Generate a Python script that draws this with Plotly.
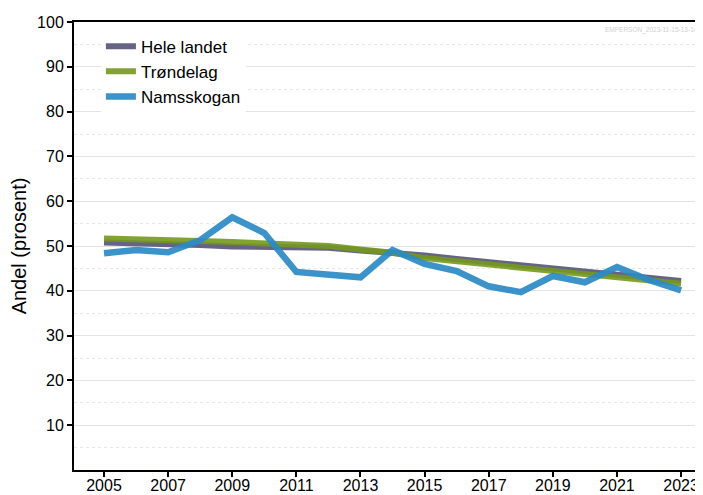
import plotly.graph_objects as go

years = list(range(2005, 2024))
hele_landet = [50.8, 50.7, 50.5, 50.2, 49.9, 49.8, 49.7, 49.6, 49.0, 48.5, 47.9, 47.1, 46.4, 45.8, 45.1, 44.5, 43.9, 43.0, 42.2]
trondelag = [51.7, 51.6, 51.3, 51.1, 50.9, 50.6, 50.3, 50.0, 49.2, 48.5, 47.3, 46.6, 45.9, 45.2, 44.6, 43.8, 43.3, 42.5, 41.6]
namsskogan = [48.4, 49.1, 48.6, 51.3, 56.4, 52.9, 44.2, 43.7, 43.0, 49.1, 46.0, 44.4, 41.0, 39.7, 43.3, 41.9, 45.3, 42.4, 40.1]
series_names = ["Hele landet", "Trøndelag", "Namsskogan"]
x_ticks = list(range(2005, 2024, 2))
y_ticks = list(range(10, 101, 10))

colors = ["rgba(85,82,122,0.9)", "rgba(116,152,30,0.9)", "rgba(43,138,196,0.92)"]
widths = [6, 6, 6.5]

fig = go.Figure()
for name, vals, c, w in zip(series_names, [hele_landet, trondelag, namsskogan], colors, widths):
    fig.add_trace(go.Scatter(x=years, y=vals, name=name, mode="lines",
                             line=dict(color=c, width=w)))

fig.update_layout(
    width=695, height=487,
    margin=dict(l=66, r=3, t=14, b=25, autoexpand=False),
    paper_bgcolor="white", plot_bgcolor="white",
    font=dict(family="Liberation Sans, Arial, sans-serif", size=16, color="black"),
    showlegend=True,
    legend=dict(x=0.043, y=0.985, xanchor="left", yanchor="top",
                bgcolor="white", font=dict(size=17), itemwidth=30,
                tracegroupgap=0),
    annotations=[dict(text="EMPERSON_2023-11-15-13-14", x=1, y=1, xref="paper", yref="paper",
                      xanchor="right", yanchor="top", yshift=-2, showarrow=False,
                      font=dict(size=6.5, color="#d0d0d0"))],
)
fig.update_xaxes(
    range=[2004.064, 2023.59], tickvals=x_ticks, ticktext=[str(t) for t in x_ticks],
    showline=True, linecolor="black", linewidth=2, mirror=True,
    ticks="outside", ticklen=5, tickcolor="black", tickwidth=1.5,
    showgrid=False, zeroline=False, tickfont=dict(size=16), automargin=False,
    ticklabelstandoff=-5,
)
fig.update_yaxes(
    range=[0, 100], tickvals=y_ticks,
    showline=True, linecolor="black", linewidth=2,
    ticks="outside", ticklen=5, tickcolor="black", tickwidth=1.5,
    showgrid=True, gridcolor="#e3e3e3", gridwidth=1, zeroline=False,
    minor=dict(dtick=5, tick0=5, showgrid=True, gridcolor="#e6e6e6", griddash="dot", gridwidth=1, ticks=""),
    title=dict(text="Andel (prosent)", font=dict(size=20), standoff=8),
    tickfont=dict(size=16), automargin=False,
)
fig.write_html("out.html")
